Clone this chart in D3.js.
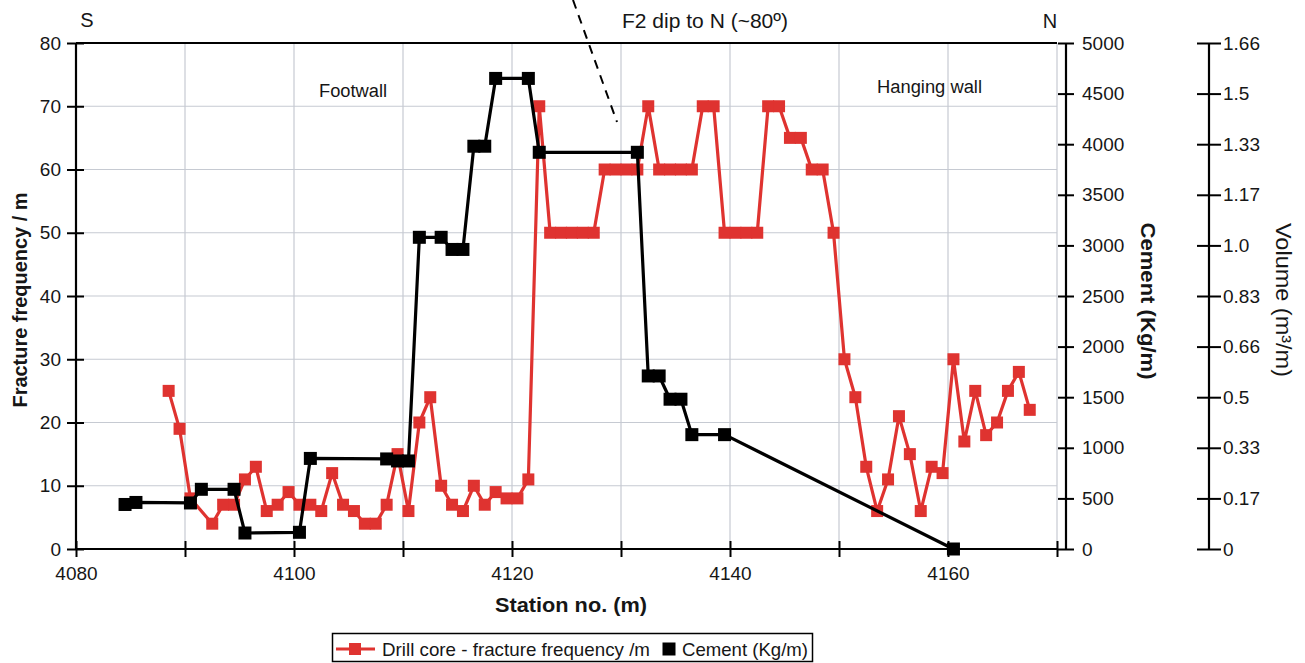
<!DOCTYPE html>
<html><head><meta charset="utf-8">
<script src="https://cdn.jsdelivr.net/npm/d3@7"></script>
<style>
body{margin:0;background:#fff}
svg{display:block}
text{font-family:"Liberation Sans",Arial,Helvetica,sans-serif;fill:#161616}
</style>
</head><body><svg id="c" width="1305" height="663"></svg>
<script>
// ---------------- data ----------------
const fractureStations = [4088.5,4089.5,4090.5,4092.5,4093.5,4094.5,4095.5,4096.5,4097.5,4098.5,4099.5,
  4100.5,4101.5,4102.5,4103.5,4104.5,4105.5,4106.5,4107.5,4108.5,4109.5,4110.5,4111.5,4112.5,4113.5,
  4114.5,4115.5,4116.5,4117.5,4118.5,4119.5,4120.5,4121.5,4122.5,4123.5,4124.5,4125.5,4126.5,4127.5,
  4128.5,4129.5,4130.5,4131.5,4132.5,4133.5,4134.5,4135.5,4136.5,4137.5,4138.5,4139.5,4140.5,4141.5,
  4142.5,4143.5,4144.5,4145.5,4146.5,4147.5,4148.5,4149.5,4150.5,4151.5,4152.5,4153.5,4154.5,4155.5,
  4156.5,4157.5,4158.5,4159.5,4160.5,4161.5,4162.5,4163.5,4164.5,4165.5,4166.5,4167.5];
const fractureValues = [25,19,8,4,7,7,11,13,6,7,9,
  7,7,6,12,7,6,4,4,7,15,6,20,24,10,
  7,6,10,7,9,8,8,11,70,50,50,50,50,50,
  60,60,60,60,70,60,60,60,60,70,70,50,50,50,
  50,70,70,65,65,60,60,50,30,24,13,6,11,21,
  15,6,13,12,30,17,25,18,20,25,28,22];

const cementStations = [4084.5,4085.5,4090.5,4091.5,4094.5,4095.5,4100.5,4101.5,4108.5,4109.5,4110.5,
  4111.5,4113.5,4114.5,4115.5,4116.5,4117.5,4118.5,4121.5,4122.5,4131.5,4132.5,4133.5,4134.5,4135.5,
  4136.5,4139.5,4160.5];
const cementValues = [440,460,455,590,590,158,165,895,890,870,870,
  3080,3080,2960,2960,3980,3980,4650,4650,3920,3920,1710,1710,1480,1480,
  1130,1130,0];

const xTicks = [4080,4090,4100,4110,4120,4130,4140,4150,4160,4170];
const xTickLabels = ["4080","","4100","","4120","","4140","","4160",""];
const yTicks = [0,10,20,30,40,50,60,70,80];
const cementTicks = [0,500,1000,1500,2000,2500,3000,3500,4000,4500,5000];
const volumeTickLabels = ["0","0.17","0.33","0.5","0.66","0.83","1.0","1.17","1.33","1.5","1.66"];

const seriesNames = ["Drill core - fracture frequency /m","Cement (Kg/m)"];

// ---------------- layout ----------------
const svg = d3.select("#c");
const L = 76, R = 1057, T = 43, B = 549;
const RED = "#df3330";
const GRID = "#c6cad2";

const x = d3.scaleLinear().domain([4080,4170]).range([L,R]);
const y = d3.scaleLinear().domain([0,80]).range([B,T]);
const yC = d3.scaleLinear().domain([0,5000]).range([B,T]);
const yV = d3.scaleLinear().domain([0,volumeTickLabels.length-1]).range([B,T]);

// grid
const grid = svg.append("g");
grid.selectAll("line.v").data(xTicks.slice(1)).join("line")
  .attr("x1",d=>x(d)).attr("x2",d=>x(d)).attr("y1",T).attr("y2",B)
  .attr("stroke",GRID).attr("stroke-width",1.2);
grid.selectAll("line.h").data(yTicks.slice(1,-1)).join("line")
  .attr("x1",L).attr("x2",R).attr("y1",d=>y(d)).attr("y2",d=>y(d))
  .attr("stroke",GRID).attr("stroke-width",1.2);

// frame top
svg.append("line").attr("x1",L).attr("x2",R).attr("y1",T).attr("y2",T)
  .attr("stroke","#000").attr("stroke-width",2);

const FS = "19px";
// left axis
const gl = svg.append("g").attr("transform",`translate(${L},0)`)
  .call(d3.axisLeft(y).tickValues(yTicks).tickFormat(d=>String(d)).tickSizeInner(9).tickSizeOuter(0).tickPadding(6));
gl.select(".domain").remove();
gl.selectAll(".tick line").attr("x1",8).attr("stroke","#000").attr("stroke-width",2);
gl.selectAll(".tick text").attr("font-size",FS).attr("font-family",null).attr("fill","#161616");
gl.append("line").attr("x1",0).attr("x2",0).attr("y1",T).attr("y2",B).attr("stroke","#000").attr("stroke-width",2.2);

// bottom axis
const gb = svg.append("g").attr("transform",`translate(0,${B})`)
  .call(d3.axisBottom(x).tickValues(xTicks).tickFormat((d,i)=>xTickLabels[i]).tickSizeInner(8).tickSizeOuter(0).tickPadding(10));
gb.select(".domain").remove();
gb.selectAll(".tick line").attr("y1",-8).attr("stroke","#000").attr("stroke-width",2);
gb.selectAll(".tick text").attr("font-size",FS).attr("font-family",null).attr("fill","#161616");
gb.append("line").attr("x1",L).attr("x2",R).attr("y1",0).attr("y2",0).attr("stroke","#000").attr("stroke-width",2.2);

// cement axis
const CX = 1066;
const gc = svg.append("g").attr("transform",`translate(${CX},0)`)
  .call(d3.axisRight(yC).tickValues(cementTicks).tickFormat(d=>String(d)).tickSizeInner(8).tickSizeOuter(0).tickPadding(8));
gc.select(".domain").remove();
gc.selectAll(".tick line").attr("x1",-8).attr("stroke","#000").attr("stroke-width",2);
gc.selectAll(".tick text").attr("font-size",FS).attr("font-family",null).attr("fill","#161616");
gc.append("line").attr("x1",0).attr("x2",0).attr("y1",T).attr("y2",B).attr("stroke","#000").attr("stroke-width",2.2);

// volume axis
const VX = 1209;
const gv = svg.append("g").attr("transform",`translate(${VX},0)`)
  .call(d3.axisRight(yV).tickValues(d3.range(volumeTickLabels.length)).tickFormat(i=>volumeTickLabels[i])
    .tickSizeInner(12).tickSizeOuter(0).tickPadding(2));
gv.select(".domain").remove();
gv.selectAll(".tick line").attr("x1",-12).attr("stroke","#000").attr("stroke-width",2);
gv.selectAll(".tick text").attr("font-size",FS).attr("font-family",null).attr("fill","#161616");
gv.append("line").attr("x1",0).attr("x2",0).attr("y1",T).attr("y2",B).attr("stroke","#000").attr("stroke-width",2.2);

// ---------------- series ----------------
const fracData = fractureStations.map((s,i)=>({s, v:fractureValues[i]}));
const cemData = cementStations.map((s,i)=>({s, v:cementValues[i]}));

svg.append("path").datum(fracData)
  .attr("d", d3.line().x(d=>x(d.s)).y(d=>y(d.v)))
  .attr("fill","none").attr("stroke",RED).attr("stroke-width",3.2).attr("stroke-linejoin","round");
const MS = 12;
svg.append("g").selectAll("rect").data(fracData).join("rect")
  .attr("x",d=>x(d.s)-MS/2).attr("y",d=>y(d.v)-MS/2).attr("width",MS).attr("height",MS).attr("fill",RED);

svg.append("path").datum(cemData)
  .attr("d", d3.line().x(d=>x(d.s)).y(d=>yC(d.v)))
  .attr("fill","none").attr("stroke","#000").attr("stroke-width",3.2).attr("stroke-linejoin","round");
const MB = 13;
svg.append("g").selectAll("rect").data(cemData).join("rect")
  .attr("x",d=>x(d.s)-MB/2).attr("y",d=>yC(d.v)-MB/2).attr("width",MB).attr("height",MB).attr("fill","#000");

// ---------------- annotations ----------------
svg.append("line").attr("x1",573).attr("y1",0).attr("x2",617).attr("y2",122)
  .attr("stroke","#000").attr("stroke-width",2).attr("stroke-dasharray","9,7");

svg.append("text").attr("x",87).attr("y",27).attr("text-anchor","middle").attr("font-size","20px").text("S");
svg.append("text").attr("x",1050).attr("y",28).attr("text-anchor","middle").attr("font-size","20px").text("N");
svg.append("text").attr("x",622).attr("y",28).attr("font-size","20px")
  .attr("textLength",166).attr("lengthAdjust","spacingAndGlyphs").text("F2 dip to N (~80º)");
svg.append("text").attr("x",319).attr("y",97).attr("font-size","18px")
  .attr("textLength",68).attr("lengthAdjust","spacingAndGlyphs").text("Footwall");
svg.append("text").attr("x",877).attr("y",93).attr("font-size","18px")
  .attr("textLength",105).attr("lengthAdjust","spacingAndGlyphs").text("Hanging wall");

// axis titles
svg.append("text").attr("transform","translate(27,300) rotate(-90)").attr("text-anchor","middle")
  .attr("font-size","20px").attr("font-weight","bold")
  .attr("textLength",215).attr("lengthAdjust","spacingAndGlyphs").text("Fracture frequency / m");
svg.append("text").attr("x",571).attr("y",612).attr("text-anchor","middle")
  .attr("font-size","21px").attr("font-weight","bold")
  .attr("textLength",152).attr("lengthAdjust","spacingAndGlyphs").text("Station no. (m)");
svg.append("text").attr("transform","translate(1141,301) rotate(90)").attr("text-anchor","middle")
  .attr("font-size","21px").attr("font-weight","bold")
  .attr("textLength",157).attr("lengthAdjust","spacingAndGlyphs").text("Cement (Kg/m)");
svg.append("text").attr("transform","translate(1276,300) rotate(90)").attr("text-anchor","middle")
  .attr("font-size","22px")
  .attr("textLength",154).attr("lengthAdjust","spacingAndGlyphs").text("Volume (m³/m)");

// ---------------- legend ----------------
const lg = svg.append("g");
lg.append("rect").attr("x",332.5).attr("y",633.5).attr("width",480).attr("height",28)
  .attr("fill","#fff").attr("stroke","#000").attr("stroke-width",1.5);
lg.append("line").attr("x1",336).attr("x2",375).attr("y1",649).attr("y2",649).attr("stroke",RED).attr("stroke-width",3.2);
lg.append("rect").attr("x",355-MS/2).attr("y",649-MS/2).attr("width",MS).attr("height",MS).attr("fill",RED);
lg.append("text").attr("x",382).attr("y",656).attr("font-size","19px")
  .attr("textLength",268).attr("lengthAdjust","spacingAndGlyphs").text(seriesNames[0]);
lg.append("rect").attr("x",669-MB/2).attr("y",649-MB/2).attr("width",MB).attr("height",MB).attr("fill","#000");
lg.append("text").attr("x",682).attr("y",656).attr("font-size","19px")
  .attr("textLength",126).attr("lengthAdjust","spacingAndGlyphs").text(seriesNames[1]);
</script>
</body></html>
